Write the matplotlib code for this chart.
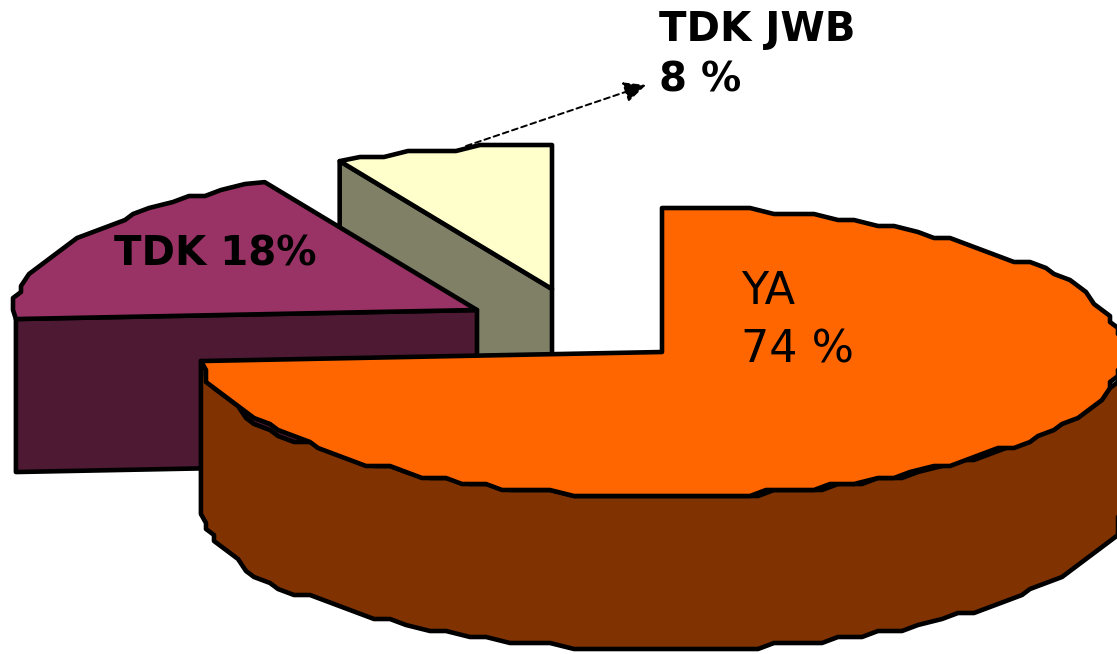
import numpy as np
import matplotlib
matplotlib.use("Agg")
import matplotlib.pyplot as plt
from matplotlib.patches import Polygon

labels = ["YA", "TDK", "TDK JWB"]
printed_percent = [74, 18, 8]
shares = [74.0, 18.4, 7.6]
top_colors = ["#FF6600", "#993366", "#FFFFCC"]
side_colors = ["#803300", "#4D1933", "#808066"]
W, H = 1117, 654
centers = [(662, 352), (477, 310), (552, 289)]
RX, RY, DEPTH = 462, 144, 153
LW = 3.3

plt.rcParams["font.family"] = ["DejaVu Sans"]
fig = plt.figure(figsize=(W / 100, H / 100), dpi=100)
ax = fig.add_axes([0, 0, 1, 1])
ax.set_xlim(0, W)
ax.set_ylim(H, 0)
ax.axis("off")

cum = np.cumsum([0] + shares) / sum(shares) * 2 * np.pi


def rim(c, a0, a1):
    """Slightly stepped elliptical rim between two clockwise-from-top angles."""
    n = max(int(abs(a1 - a0) / (2 * np.pi) * 130), 3)
    t = np.linspace(a0, a1, n + 1)
    x = c[0] + RX * np.sin(t)
    y = c[1] - RY * np.cos(t)
    x[1:-1] = np.round((x[1:-1] - c[0]) / 8.0) * 8.0 + c[0]
    y[1:-1] = np.round((y[1:-1] - c[1]) / 6.0) * 6.0 + c[1]
    return np.column_stack([x, y])


def poly(pts, color, z):
    ax.add_patch(Polygon(pts, closed=True, facecolor=color, edgecolor="black",
                         linewidth=LW, joinstyle="round", zorder=z))


def radial_face(c, a, color, z):
    p = rim(c, a, a + 1e-6)[0]
    poly([c, p, (p[0], p[1] + DEPTH), (c[0], c[1] + DEPTH)], color, z)


# back to front: TDK JWB, TDK, YA
order = [2, 1, 0]
for z, i in enumerate(order):
    c = centers[i]
    a0, a1 = cum[i], cum[i + 1]
    base = 2 + z * 3
    radial_face(c, a0, side_colors[i], base)
    if i == 0:
        arc = rim(c, np.pi / 2, a1)
        wall = np.vstack([arc, (arc + [0, DEPTH])[::-1]])
        poly(wall, side_colors[i], base + 1)
    top = np.vstack([[c], rim(c, a0, a1)])
    poly(top, top_colors[i], base + 2)

FS_REG, FS_BOLD = 32, 29
ax.text(741, 292, labels[0], fontsize=FS_REG, color="black", va="center", ha="left", zorder=20)
ax.text(741, 350, f"{printed_percent[0]} %", fontsize=FS_REG, color="black", va="center", ha="left", zorder=20)
ax.text(114, 254, f"{labels[1]} {printed_percent[1]}%", fontsize=FS_BOLD, fontweight="bold", color="black",
        va="center", ha="left", zorder=20)
ax.text(659, 30, labels[2], fontsize=FS_BOLD, fontweight="bold", color="black", va="center", ha="left", zorder=20)
ax.text(659, 80, f"{printed_percent[2]} %", fontsize=FS_BOLD, fontweight="bold", color="black", va="center", ha="left", zorder=20)

ax.annotate("", xy=(646, 85), xytext=(466, 146), zorder=1,
            arrowprops=dict(arrowstyle="-|>,head_length=0.75,head_width=0.35", linestyle=(0, (3, 2)),
                            linewidth=1.4, color="black", mutation_scale=18, shrinkA=0, shrinkB=0))

fig.savefig("out.png", dpi=100, facecolor="white")
